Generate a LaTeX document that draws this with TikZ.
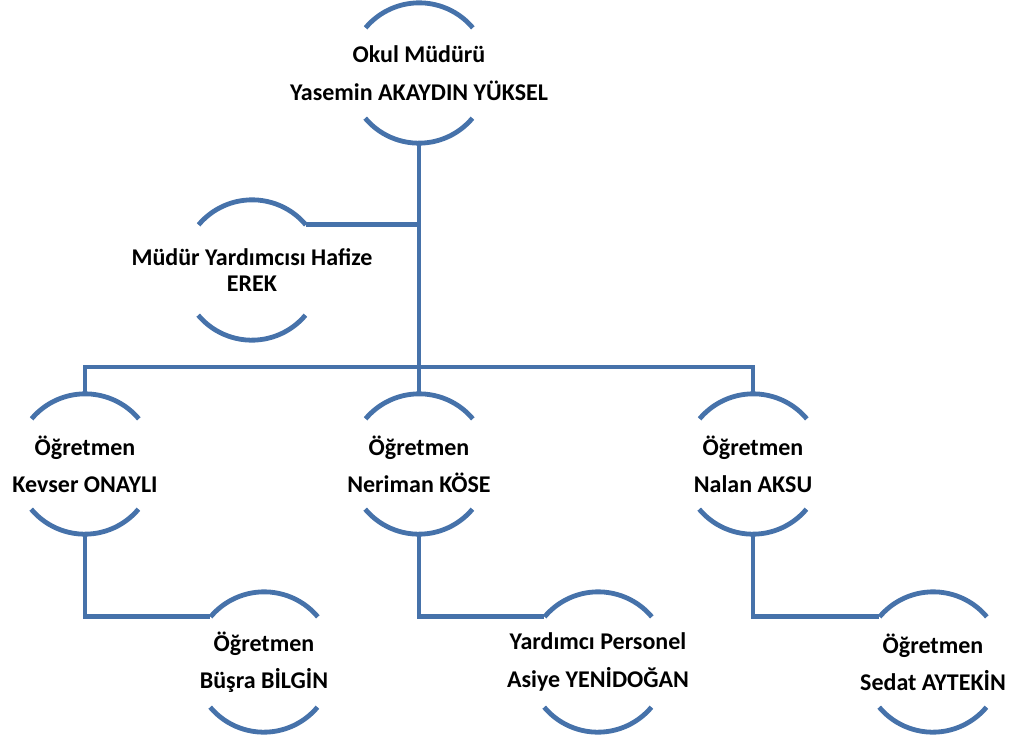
\documentclass[tikz,border=0pt]{standalone}
\usepackage{fontspec}
\setmainfont{Carlito}
\definecolor{nodeblue}{HTML}{4672AA}
\tikzset{
  ring/.style={circle, minimum size=105pt, inner sep=0pt},
  ringtext/.style={font=\bfseries\fontsize{18}{28}\selectfont, align=center, inner sep=0pt},
  ringline/.style={draw=nodeblue, line width=3.6pt},
  link/.style={draw=nodeblue, line width=3.6pt}
}
\begin{document}
\begin{tikzpicture}[x=0.75pt,y=0.75pt]
\useasboundingbox (0,0) rectangle (1016,-740);
\node[ring] (mudur) at (419,-73) {};
\node[ring] (yrd) at (252,-270) {};
\node[ring] (kevser) at (85,-464) {};
\node[ring] (neriman) at (419,-464) {};
\node[ring] (nalan) at (753,-464) {};
\node[ring] (busra) at (264,-662) {};
\node[ring] (asiye) at (598,-662) {};
\node[ring] (sedat) at (933,-662) {};
\node[ringtext] (mudur t) at (mudur) {Okul Müdürü\\Yasemin AKAYDIN YÜKSEL};
\node[ringtext, font=\bfseries\fontsize{18}{20}\selectfont] (yrd t) at (yrd) {Müdür Yardımcısı Hafize\\EREK};
\node[ringtext] (kevser t) at (kevser) {Öğretmen\\Kevser ONAYLI};
\node[ringtext] (neriman t) at (neriman) {Öğretmen\\Neriman KÖSE};
\node[ringtext] (nalan t) at (nalan) {Öğretmen\\Nalan AKSU};
\node[ringtext] (busra t) at (busra) {Öğretmen\\Büşra BİLGİN};
\node[ringtext] (asiye t) at (asiye) {Yardımcı Personel\\Asiye YENİDOĞAN};
\node[ringtext] (sedat t) at (sedat) {Öğretmen\\Sedat AYTEKİN};
\coordinate (bar) at (419,-367);
\foreach \n in {mudur,yrd,kevser,neriman,nalan,busra,asiye,sedat}{
  \draw[ringline] (\n.40) arc[start angle=40, end angle=140, radius=52.5pt];
  \draw[ringline] (\n.220) arc[start angle=220, end angle=320, radius=52.5pt];
}
\draw[link] (mudur.south) -- (neriman.north);
\draw[link] (yrd.40) -- (yrd.40 -| mudur.south);
\draw[link] (kevser.north) |- (bar) -| (nalan.north);
\draw[link] (kevser.south) |- (busra.140);
\draw[link] (neriman.south) |- (asiye.140);
\draw[link] (nalan.south) |- (sedat.140);
\end{tikzpicture}
\end{document}
